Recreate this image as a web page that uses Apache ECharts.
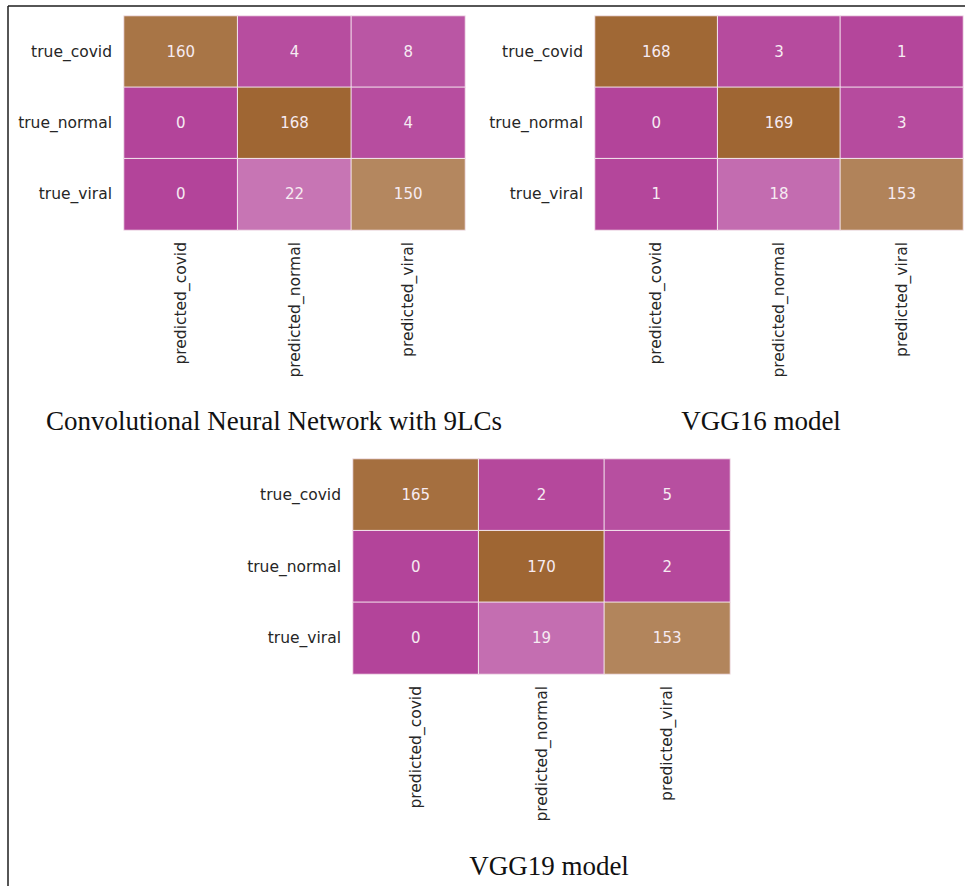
<!DOCTYPE html>
<html>
<head>
<meta charset="utf-8">
<title>Confusion matrices</title>
<script src="https://cdn.jsdelivr.net/npm/echarts@6/dist/echarts.min.js"></script>
<style>
  html, body { margin: 0; padding: 0; background: #ffffff; }
  #chart { width: 965px; height: 886px; }
</style>
</head>
<body>
<div id="chart"></div>
<script>
// Class labels
const predictedLabels = ['predicted_covid', 'predicted_normal', 'predicted_viral'];
const trueLabels = ['true_covid', 'true_normal', 'true_viral'];

// Confusion matrices, rows = true class, columns = predicted class
const cnn9lcMatrix = [
  [160, 4, 8],
  [0, 168, 4],
  [0, 22, 150]
];
const vgg16Matrix = [
  [168, 3, 1],
  [0, 169, 3],
  [1, 18, 153]
];
const vgg19Matrix = [
  [165, 2, 5],
  [0, 170, 2],
  [0, 19, 153]
];

const modelTitles = ['Convolutional Neural Network with 9LCs', 'VGG16 model', 'VGG19 model'];

// Panel layout (pixels)
const panels = [
  { matrix: cnn9lcMatrix, grid: { left: 124, top: 16, width: 341, height: 214 }, title: { x: 274, y: 421 } },
  { matrix: vgg16Matrix, grid: { left: 595, top: 16, width: 368, height: 214 }, title: { x: 761, y: 421 } },
  { matrix: vgg19Matrix, grid: { left: 353, top: 459, width: 377, height: 215 }, title: { x: 549, y: 866 } }
];

const sansFont = "'DejaVu Sans', sans-serif";
const serifFont = "'Liberation Serif', 'Times New Roman', serif";

function toCells(matrix) {
  const cells = [];
  matrix.forEach((row, r) => row.forEach((v, c) => cells.push([c, r, v])));
  return cells;
}

const option = {
  backgroundColor: '#ffffff',
  animation: false,
  grid: panels.map(p => Object.assign({ containLabel: false }, p.grid)),
  xAxis: panels.map((p, i) => ({
    type: 'category',
    gridIndex: i,
    data: predictedLabels,
    position: 'bottom',
    axisLine: { show: false },
    axisTick: { show: false },
    splitLine: { show: false },
    axisLabel: {
      rotate: 90,
      margin: 12,
      fontFamily: sansFont,
      fontSize: 15.5,
      color: '#262626'
    }
  })),
  yAxis: panels.map((p, i) => ({
    type: 'category',
    gridIndex: i,
    data: trueLabels,
    inverse: true,
    axisLine: { show: false },
    axisTick: { show: false },
    splitLine: { show: false },
    axisLabel: {
      margin: 12,
      fontFamily: sansFont,
      fontSize: 15.5,
      color: '#262626'
    }
  })),
  visualMap: panels.map((p, i) => ({
    type: 'continuous',
    show: false,
    seriesIndex: i,
    min: 0,
    max: Math.max(...p.matrix.flat()),
    inRange: { color: ['#b3449a', '#ffffff', '#9f6633'] }
  })),
  series: panels.map((p, i) => ({
    type: 'heatmap',
    xAxisIndex: i,
    yAxisIndex: i,
    data: toCells(p.matrix),
    itemStyle: { borderColor: '#f4e6ee', borderWidth: 1 },
    label: {
      show: true,
      fontFamily: sansFont,
      fontSize: 15,
      color: '#f6ebf2'
    },
    emphasis: { disabled: true }
  })),
  graphic: [
    // frame lines along the left and top edges
    { type: 'line', shape: { x1: 8, y1: 6, x2: 8, y2: 886 }, style: { stroke: '#1e1e1e', lineWidth: 1.5 } },
    { type: 'line', shape: { x1: 8, y1: 6, x2: 965, y2: 6 }, style: { stroke: '#1e1e1e', lineWidth: 1.5 } }
  ].concat(panels.map((p, i) => ({
    type: 'text',
    x: p.title.x,
    y: p.title.y,
    style: {
      text: modelTitles[i],
      font: '27px ' + serifFont,
      fill: '#111111',
      align: 'center',
      verticalAlign: 'middle'
    }
  })))
};

const chart = echarts.init(document.getElementById('chart'), null, { renderer: 'svg' });
chart.setOption(option);
</script>
</body>
</html>
